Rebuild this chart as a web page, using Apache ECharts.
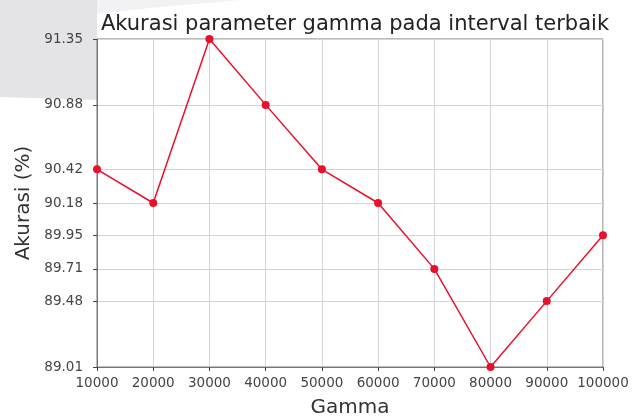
<!DOCTYPE html>
<html>
<head>
<meta charset="utf-8">
<script src="https://cdn.jsdelivr.net/npm/echarts@6/dist/echarts.min.js"></script>
<style>
html, body { margin: 0; padding: 0; background: #fff; }
#chart { width: 637px; height: 419px; }
</style>
</head>
<body>
<div id="chart"></div>
<script>
var gammaValues = [10000, 20000, 30000, 40000, 50000, 60000, 70000, 80000, 90000, 100000];
var accuracyValues = [90.42, 90.18, 91.35, 90.88, 90.42, 90.18, 89.71, 89.01, 89.48, 89.95];
var yTickValues = [89.01, 89.48, 89.71, 89.95, 90.18, 90.42, 90.88, 91.35];

var points = gammaValues.map(function (g, i) { return [g, accuracyValues[i]]; });
var font = 'DejaVu Sans';

var chart = echarts.init(document.getElementById('chart'));
chart.setOption({
    animation: false,
    backgroundColor: '#fff',
    graphic: [
        {   // grey slide shape behind the top-left corner
            type: 'polygon', z: -10, silent: true,
            shape: { points: [[0, 0], [97, 0], [97, 100], [0, 97]] },
            style: { fill: '#e4e4e7' }
        },
        {
            type: 'polygon', z: -10, silent: true,
            shape: { points: [[97, 0], [240, 0], [150, 8], [97, 14]] },
            style: { fill: '#f2f2f4' }
        }
    ],
    title: {
        text: 'Akurasi parameter gamma pada interval terbaik',
        left: 350, textAlign: 'center', top: 9,
        textStyle: { fontFamily: font, fontSize: 21, fontWeight: 'normal', color: '#222' }
    },
    grid: {
        left: 97, right: 34, top: 39, bottom: 52,
        outerBoundsMode: 'none', containLabel: false,
        show: true, borderColor: '#777', borderWidth: 1, backgroundColor: 'transparent'
    },
    xAxis: {
        type: 'value', min: 10000, max: 100000, interval: 10000,
        name: 'Gamma', nameLocation: 'middle', nameGap: 31,
        nameTextStyle: { fontFamily: font, fontSize: 20, color: '#333' },
        axisLine: { show: true, lineStyle: { color: '#777' } },
        axisTick: { show: true, length: 4, lineStyle: { color: '#444' } },
        axisLabel: {
            fontFamily: font, fontSize: 13.5, color: '#444', margin: 9,
            formatter: function (v) { return String(v); }
        },
        splitLine: { show: true, lineStyle: { color: '#d4d4d4' } }
    },
    yAxis: {
        type: 'value', min: 89.01, max: 91.35,
        name: 'Akurasi (%)', nameLocation: 'middle', nameGap: 62,
        nameTextStyle: { fontFamily: font, fontSize: 20, color: '#333' },
        axisLine: { show: true, lineStyle: { color: '#777' } },
        axisTick: { show: true, length: 4, customValues: yTickValues, lineStyle: { color: '#444' } },
        axisLabel: {
            fontFamily: font, fontSize: 13.5, color: '#444', margin: 14,
            customValues: yTickValues,
            formatter: function (v) { return v.toFixed(2); }
        },
        splitLine: { show: true, lineStyle: { color: '#d4d4d4' } }
    },
    series: [{
        type: 'line',
        data: points,
        symbol: 'circle', symbolSize: 8,
        itemStyle: { color: '#e8102a' },
        lineStyle: { color: '#e8102a', width: 1.5 }
    }]
});
</script>
</body>
</html>
